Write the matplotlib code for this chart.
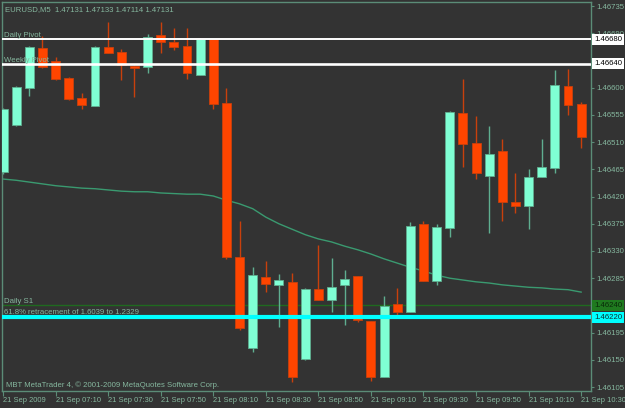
import numpy as np
import matplotlib.pyplot as plt

# EURUSD M5, 21 Sep 2009 06:50 .. 10:30
opens = [1.46461, 1.46538, 1.46600, 1.46666, 1.46644, 1.46616, 1.46583, 1.46570, 1.46668, 1.46659,
         1.46636, 1.46634, 1.46687, 1.46676, 1.46669, 1.46621, 1.46681, 1.46575, 1.46320, 1.46170,
         1.46287, 1.46274, 1.46279, 1.46151, 1.46267, 1.46249, 1.46274, 1.46289, 1.46214, 1.46122,
         1.46242, 1.46229, 1.46375, 1.46280, 1.46368, 1.46558, 1.46509, 1.46454, 1.46495, 1.46411,
         1.46404, 1.46452, 1.46467, 1.46603, 1.46573]
highs = [1.46566, 1.46603, 1.46669, 1.46686, 1.46651, 1.46618, 1.46591, 1.46669, 1.46709, 1.46664,
         1.46638, 1.46689, 1.46709, 1.46699, 1.46699, 1.46682, 1.46681, 1.46600, 1.46380, 1.46303,
         1.46313, 1.46292, 1.46294, 1.46269, 1.46340, 1.46318, 1.46299, 1.46289, 1.46214, 1.46256,
         1.46269, 1.46378, 1.46380, 1.46375, 1.46562, 1.46615, 1.46553, 1.46537, 1.46515, 1.46459,
         1.46466, 1.46515, 1.46629, 1.46631, 1.46576]
lows = [1.46457, 1.46537, 1.46586, 1.46633, 1.46613, 1.46580, 1.46565, 1.46570, 1.46658, 1.46613,
        1.46585, 1.46624, 1.46658, 1.46663, 1.46615, 1.46621, 1.46565, 1.46317, 1.46200, 1.46163,
        1.46262, 1.46204, 1.46113, 1.46150, 1.46249, 1.46229, 1.46208, 1.46213, 1.46115, 1.46122,
        1.46224, 1.46229, 1.46280, 1.46274, 1.46353, 1.46469, 1.46449, 1.46360, 1.46380, 1.46393,
        1.46366, 1.46452, 1.46459, 1.46555, 1.46500]
closes = [1.46565, 1.46601, 1.46668, 1.46634, 1.46615, 1.46581, 1.46572, 1.46668, 1.46658, 1.46638,
          1.46633, 1.46684, 1.46676, 1.46668, 1.46624, 1.46681, 1.46573, 1.46320, 1.46203, 1.46290,
          1.46275, 1.46282, 1.46122, 1.46267, 1.46249, 1.46270, 1.46284, 1.46216, 1.46122, 1.46239,
          1.46229, 1.46371, 1.46280, 1.46370, 1.46560, 1.46507, 1.46459, 1.46490, 1.46411, 1.46404,
          1.46452, 1.46469, 1.46605, 1.46572, 1.46519]
ma = [1.46449, 1.46447, 1.46444, 1.46441, 1.46438, 1.46436, 1.46434, 1.46433, 1.46431, 1.46429,
      1.46428, 1.46428, 1.46426, 1.46425, 1.46424, 1.46424, 1.46421, 1.46414, 1.46408, 1.46400,
      1.46386, 1.46375, 1.46366, 1.46357, 1.46350, 1.46345, 1.46338, 1.46332, 1.46325, 1.46317,
      1.46310, 1.46303, 1.46297, 1.46290, 1.46285, 1.46282, 1.46279, 1.46277, 1.46274, 1.46272,
      1.46270, 1.46269, 1.46267, 1.46266, 1.46262]

time_labels = ["21 Sep 2009", "21 Sep 07:10", "21 Sep 07:30", "21 Sep 07:50", "21 Sep 08:10",
               "21 Sep 08:30", "21 Sep 08:50", "21 Sep 09:10", "21 Sep 09:30", "21 Sep 09:50",
               "21 Sep 10:10", "21 Sep 10:30"]
price_ticks = [1.46735, 1.46690, 1.46600, 1.46555, 1.46510, 1.46465, 1.46420, 1.46375,
               1.46330, 1.46285, 1.46195, 1.46150, 1.46105]

daily_pivot = 1.46680
weekly_pivot = 1.46640
daily_s1 = 1.46240
fib_618 = 1.46220

bg = '#333333'
axcol = '#5b8c77'
txtcol = '#86b89f'
bull, bear = '#7fffd4', '#ff4500'
bull_w, bear_w = '#5fae90', '#c8400c'
fs = 5.6
plt.rcParams['font.family'] = ['Liberation Sans', 'DejaVu Sans']

fig = plt.figure(figsize=(6.25, 4.08), dpi=100, facecolor=bg)
ax = fig.add_axes([2 / 625, 17 / 408, 589 / 625, 389 / 408], facecolor=bg)

x = np.arange(len(opens))
o, h, l, c = map(np.array, (opens, highs, lows, closes))
up = c >= o

# moving average under the candles
ax.plot(x, ma, color='#3a9a70', lw=1, zorder=1)
ax.axhline(daily_s1, color='#1f6a1f', lw=1, zorder=1)

# candles
ax.vlines(x[up], l[up], h[up], color=bull_w, lw=1, zorder=2)
ax.vlines(x[~up], l[~up], h[~up], color=bear_w, lw=1, zorder=2)
body_lo = np.minimum(o, c)
body_h = np.maximum(np.abs(c - o), 0.00002)
ax.bar(x[up], body_h[up], bottom=body_lo[up], width=0.68, color=bull,
       edgecolor=bull_w, linewidth=0.6, zorder=3)
ax.bar(x[~up], body_h[~up], bottom=body_lo[~up], width=0.68, color=bear,
       edgecolor=bear_w, linewidth=0.6, zorder=3)

# horizontal objects
ax.axhline(daily_pivot, color='white', lw=1.4, zorder=4)
ax.axhline(weekly_pivot, color='white', lw=1.9, zorder=4)
ax.axhline(fib_618, color='#00ffff', lw=3, zorder=4)

yt = ax.get_yaxis_transform()
ax.text(0.004, daily_pivot, 'Daily Pivot', transform=yt, va='bottom', ha='left',
        fontsize=fs, color=txtcol, zorder=5)
ax.text(0.004, weekly_pivot, 'Weekly Pivot', transform=yt, va='bottom', ha='left',
        fontsize=fs, color=txtcol, zorder=5)
ax.text(0.004, daily_s1 + 0.00001, 'Daily S1', transform=yt, va='bottom', ha='left',
        fontsize=fs, color=txtcol, zorder=5)
ax.text(0.004, fib_618 + 0.00003, '61.8% retracement of 1.6039 to 1.2329', transform=yt,
        va='bottom', ha='left', fontsize=fs, color=txtcol, zorder=5)

ax.text(0.005, 0.99, 'EURUSD,M5  1.47131 1.47133 1.47114 1.47131', transform=ax.transAxes,
        va='top', ha='left', fontsize=fs, color=txtcol)
ax.text(0.006, 0.006, 'MBT MetaTrader 4, \u00a9 2001-2009 MetaQuotes Software Corp.',
        transform=ax.transAxes, va='bottom', ha='left', fontsize=fs, color=txtcol)

ax.set_xlim(-0.08, 44.75)
ax.set_ylim(1.460984, 1.467419)

ax.set_xticks(x[::4])
ax.set_xticklabels(time_labels, ha='left')
ax.yaxis.tick_right()
ax.set_yticks(price_ticks)
ax.set_yticklabels([f'{v:.5f}' for v in price_ticks])
ax.tick_params(axis='x', direction='out', length=3.5, pad=1, colors=axcol,
               labelcolor=txtcol, labelsize=5.4)
ax.tick_params(axis='y', direction='out', length=2.5, pad=1, colors=axcol,
               labelcolor=txtcol, labelsize=fs)
for s in ax.spines.values():
    s.set_color(axcol)
    s.set_linewidth(1)

# boxed price labels for the objects
for val, fc, tc in [(daily_pivot, 'white', 'black'), (weekly_pivot, 'white', 'black'),
                    (daily_s1, '#1f7a1f', '#0a2a0a'), (fib_618, '#00ffff', '#0a3030')]:
    ax.annotate(f'{val:.5f}', xy=(1, val), xycoords=('axes fraction', 'data'),
                xytext=(2.2, 0), textcoords='offset points', va='center', ha='left',
                fontsize=fs, color=tc, annotation_clip=False, zorder=6,
                bbox=dict(boxstyle='square,pad=0.25', fc=fc, ec='none'))

fig.savefig('out.png', dpi=100, facecolor=bg)
